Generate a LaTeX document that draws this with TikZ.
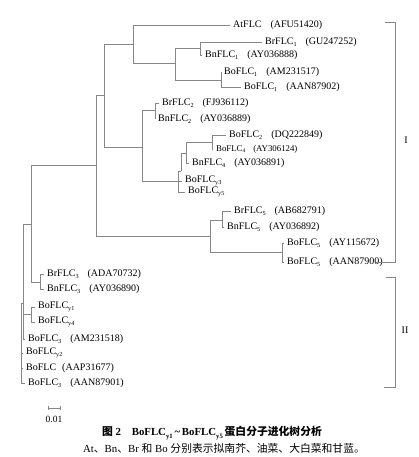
\documentclass[tikz,border=0pt]{standalone}
\usepackage{fontspec}
\setmainfont{Liberation Serif}
\newfontfamily\cjk{Noto Sans CJK SC}
\definecolor{branchgray}{RGB}{135,135,135}
\newcommand{\subx}[1]{\raisebox{-0.45ex}{\scalebox{0.62}{#1}}}
\newcommand{\acc}[1]{\hspace{0.9em}(#1)}
\begin{document}
\begin{tikzpicture}[x=1pt,y=-1pt,
  br/.style={draw=branchgray, line width=0.6pt},
  leaf/.style={anchor=west, inner sep=0pt, font=\fontsize{10}{12}\selectfont, text=black},
  smallleaf/.style={leaf, font=\fontsize{8.8}{10}\selectfont},
  lab/.style={inner sep=0pt, font=\fontsize{10}{12}\selectfont},
]
\useasboundingbox (0,0) rectangle (419,457);
% internal nodes
\coordinate (A) at (133,44);
\coordinate (B) at (175,63);
\coordinate (C) at (200,48);
\coordinate (D) at (221,80);
\coordinate (E) at (104,95);
\coordinate (F) at (142,147);
\coordinate (G) at (155,110);
\coordinate (H) at (178,181);
\coordinate (J) at (181,171);
\coordinate (K) at (186,153);
\coordinate (L) at (212,142);
\coordinate (M) at (210,236);
\coordinate (N) at (222,220);
\coordinate (P) at (282,252);
\coordinate (Q) at (96,165);
\coordinate (R) at (31,224);
\coordinate (S) at (40,282);
\coordinate (T) at (23,303);
\coordinate (U) at (31,314);
\coordinate (V) at (21,340);
% leaves
\node[leaf] (lAt) at (233,25) {AtFLC\acc{AFU51420}};
\node[leaf] (lBr1) at (265,42) {BrFLC\subx{1}\acc{GU247252}};
\node[leaf] (lBn1) at (205,55) {BnFLC\subx{1}\acc{AY036888}};
\node[leaf] (lBo1a) at (224,72) {BoFLC\subx{1}\acc{AM231517}};
\node[leaf] (lBo1b) at (244,87) {BoFLC\subx{1}\acc{AAN87902}};
\node[leaf] (lBr2) at (162,103) {BrFLC\subx{2}\acc{FJ936112}};
\node[leaf] (lBn2) at (158,119) {BnFLC\subx{2}\acc{AY036889}};
\node[leaf] (lBo2) at (229,135) {BoFLC\subx{2}\acc{DQ222849}};
\node[smallleaf] (lBo4) at (216,149) {BoFLC\subx{4}\acc{AY306124}};
\node[leaf] (lBn4) at (192,163) {BnFLC\subx{4}\acc{AY036891}};
\node[leaf] (lBoy3) at (185,181) {BoFLC\subx{y3}};
\node[leaf] (lBoy5) at (188,192) {BoFLC\subx{y5}};
\node[leaf] (lBr5) at (234,211) {BrFLC\subx{5}\acc{AB682791}};
\node[leaf] (lBn5) at (227,227) {BnFLC\subx{5}\acc{AY036892}};
\node[leaf] (lBo5a) at (287,243) {BoFLC\subx{5}\acc{AY115672}};
\node[leaf] (lBo5b) at (287,262) {BoFLC\subx{5}\acc{AAN87900}};
\node[leaf] (lBr3) at (47,274) {BrFLC\subx{3}\acc{ADA70732}};
\node[leaf] (lBn3) at (47,289) {BnFLC\subx{3}\acc{AY036890}};
\node[leaf] (lBoy1) at (38,307) {BoFLC\subx{y1}};
\node[leaf] (lBoy4) at (38,322) {BoFLC\subx{y4}};
\node[leaf] (lBo3a) at (28,339) {BoFLC\subx{3}\acc{AM231518}};
\node[leaf] (lBoy2) at (26,353) {BoFLC\subx{y2}};
\node[leaf] (lBoA) at (26,368) {BoFLC\hspace{0.6em}(AAP31677)};
\node[leaf] (lBo3b) at (28,383) {BoFLC\subx{3}\acc{AAN87901}};
% branches
\draw[br] (A) |- ([xshift=-3pt]lAt.west);
\draw[br] (A) |- (B);
\draw[br] (B) |- (C);
\draw[br] (B) |- (D);
\draw[br] (C) |- ([xshift=-3pt]lBr1.west);
\draw[br] (C) |- ([xshift=-3pt]lBn1.west);
\draw[br] (D) |- ([xshift=-3pt]lBo1a.west);
\draw[br] (D) |- ([xshift=-3pt]lBo1b.west);
\draw[br] (E) |- (A);
\draw[br] (E) |- (F);
\draw[br] (F) |- (G);
\draw[br] (F) |- (H);
\draw[br] (G) |- ([xshift=-3pt]lBr2.west);
\draw[br] (G) |- ([xshift=-3pt]lBn2.west);
\draw[br] (H) |- (J);
\draw[br] (H) |- ([xshift=-3pt]lBoy3.west);
\draw[br] (H) |- ([xshift=-3pt]lBoy5.west);
\draw[br] (J) |- (K);
\draw[br] (K) |- (L);
\draw[br] (K) |- ([xshift=-3pt]lBn4.west);
\draw[br] (L) |- ([xshift=-3pt]lBo2.west);
\draw[br] (L) |- ([xshift=-3pt]lBo4.west);
\draw[br] (Q) |- (E);
\draw[br] (Q) |- (M);
\draw[br] (M) |- (N);
\draw[br] (M) |- (P);
\draw[br] (N) |- ([xshift=-3pt]lBr5.west);
\draw[br] (N) |- ([xshift=-3pt]lBn5.west);
\draw[br] (P) |- ([xshift=-3pt]lBo5a.west);
\draw[br] (P) |- ([xshift=-3pt]lBo5b.west);
\draw[br] (R) |- (Q);
\draw[br] (R) |- (S);
\draw[br] (S) |- ([xshift=-3pt]lBr3.west);
\draw[br] (S) |- ([xshift=-3pt]lBn3.west);
\draw[br] (T) |- (R);
\draw[br] (T) |- (U);
\draw[br] (T) |- ([xshift=-3pt]lBo3a.west);
\draw[br] (U) |- ([xshift=-3pt]lBoy1.west);
\draw[br] (U) |- ([xshift=-3pt]lBoy4.west);
\draw[br] (V) |- (T);
\draw[br] (V) |- ([xshift=-3pt]lBoy2.west);
\draw[br] (V) |- ([xshift=-3pt]lBoA.west);
\draw[br] (V) |- ([xshift=-3pt]lBo3b.west);
% brackets
\coordinate (b1a) at (385,22);
\coordinate (b1b) at (395,22);
\coordinate (b1c) at (395,262);
\coordinate (b1d) at (376,262);
\draw[br] (b1a) -- (b1b) -- (b1c) -- (b1d);
\node[lab] (cI) at (406,140) {I};
\coordinate (b2a) at (386,277);
\coordinate (b2b) at (395,277);
\coordinate (b2c) at (395,387);
\coordinate (b2d) at (384,387);
\draw[br] (b2a) -- (b2b) -- (b2c) -- (b2d);
\node[lab] (cII) at (405,330) {II};
% scale bar
\coordinate (s1) at (48,408);
\coordinate (s2) at (60,408);
\draw[br] (s1) -- (s2);
\draw[br] ([yshift=-2pt]s1) -- ([yshift=2pt]s1);
\draw[br] ([yshift=-2pt]s2) -- ([yshift=2pt]s2);
\node[lab, font=\fontsize{9.5}{11}\selectfont] (sbl) at (54,419) {0.01};
% caption
\node[lab, font=\fontsize{10.8}{12}\selectfont\bfseries] (cap1) at (212,433)
  {{\cjk 图} 2\hspace{1em}BoFLC\subx{y1}\,\textasciitilde\,BoFLC\subx{y5}\,{\cjk 蛋白分子进化树分析}};
\node[lab, font=\fontsize{10.8}{12}\selectfont] (cap2) at (224,448)
  {At{\cjk 、}Bn{\cjk 、}Br {\cjk 和} Bo {\cjk 分别表示拟南芥、油菜、大白菜和甘蓝。}};
\end{tikzpicture}
\end{document}
